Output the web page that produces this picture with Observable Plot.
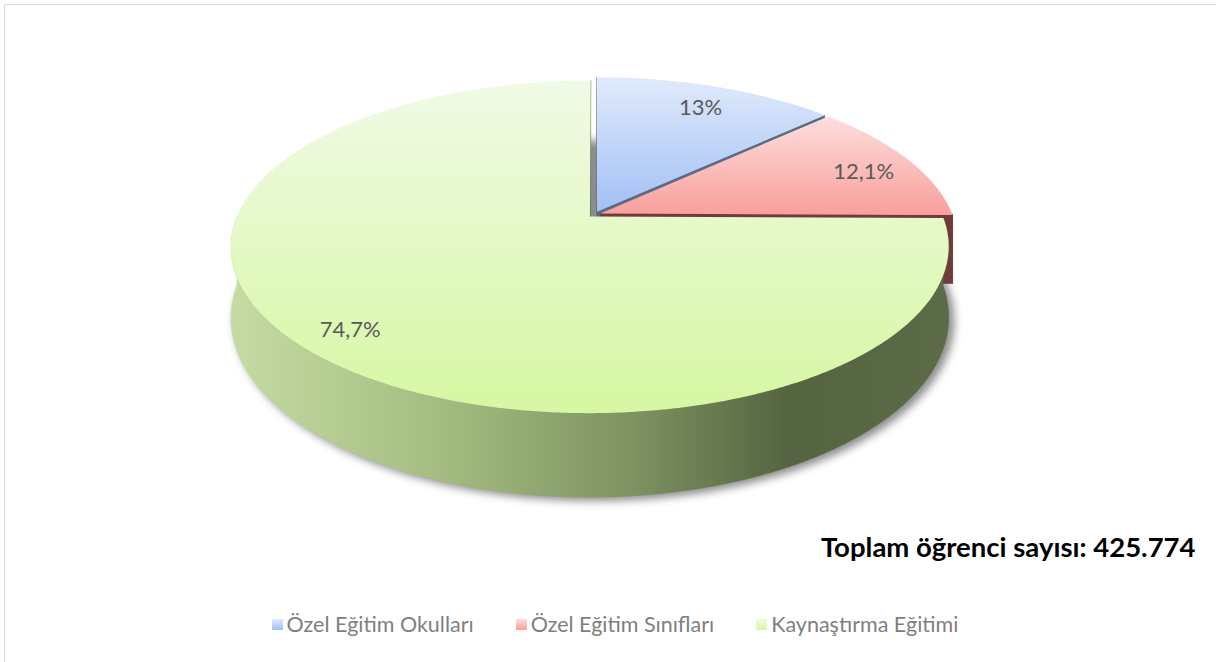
<!DOCTYPE html>
<html>
<head>
<meta charset="utf-8">
<script src="https://cdn.jsdelivr.net/npm/d3@7"></script>
<script src="https://cdn.jsdelivr.net/npm/@observablehq/plot@0.6"></script>
<style>
  html, body { margin: 0; padding: 0; background: #fff; }
  #chart { position: absolute; left: 0; top: 0; }
  #frame { position: absolute; left: 4px; top: 4px; width: 1300px; height: 700px;
           border-left: 1.5px solid #d9d9d9; border-top: 1.5px solid #d9d9d9; pointer-events: none; }
  #legend { position: absolute; left: 0; top: 611px; width: 1216px; display: flex; justify-content: center;
            gap: 42px; padding-left: 14px; box-sizing: border-box;
            font-family: Lato, "Open Sans", sans-serif; font-size: 21.5px; color: #7f7f7f; }
  #legend .item { display: flex; align-items: center; gap: 4px; }
  #legend .sw { width: 11px; height: 11px; display: inline-block; }
</style>
</head>
<body>
<div id="chart"></div>
<div id="legend"></div>
<div id="frame"></div>
<script>
// ---- data ----
const categories = ["Özel Eğitim Okulları", "Özel Eğitim Sınıfları", "Kaynaştırma Eğitimi"];
const shares = [13, 12.1, 74.7];
const shareLabels = ["13%", "12,1%", "74,7%"];
const totalText = "Toplam öğrenci sayısı: 425.774";

// ---- styles ----
const topColors = [["#e0eafb", "#a2c0f5"], ["#fddedd", "#f89f9b"], ["#f0fae6", "#d6f7a2"]];
const wallColors = ["#5b6a84", "#6f3b3b", "url(#gWallGreen)"];

// ---- 3D perspective view of the pie ----
const view = { cx: 594, cy: 214, R: 352, A: 160, k: 0.182, H: 68.5, explode: 0.018, labelR: 0.85 };
function project(X, Z, h) {
  const den = 1 + view.k * Z;
  return { x: view.cx + view.R * X / den, y: view.cy - view.A * Z / den + view.H * h / den };
}

const arcs = d3.pie().sort(null).value(d => d)(shares);
const slices = arcs.map((a, i) => {
  const mid = (a.startAngle + a.endAngle) / 2;
  return { i, a0: a.startAngle, a1: a.endAngle, mid,
           ox: view.explode * Math.sin(mid), oz: view.explode * Math.cos(mid) };
});
const rim = (s, t, h) => project(s.ox + Math.sin(t), s.oz + Math.cos(t), h);
const center = (s, h) => project(s.ox, s.oz, h);
function arcPts(s, t0, t1, h) {
  const n = Math.max(2, Math.ceil((t1 - t0) / (Math.PI / 360)));
  return d3.range(n + 1).map(j => rim(s, t0 + (t1 - t0) * j / n, h));
}

// walls
const cam = [0, -1 / view.k];
const walls = [];
for (const s of slices) {
  // radial faces
  for (const [t, sign] of [[s.a0, -1], [s.a1, 1]]) {
    const n = [sign * Math.cos(t), -sign * Math.sin(t)];
    const p = [s.ox + 0.5 * Math.sin(t), s.oz + 0.5 * Math.cos(t)];
    const vis = n[0] * (cam[0] - p[0]) + n[1] * (cam[1] - p[1]);
    if (vis > 1e-4) {
      walls.push({ depth: p[1], fill: wallColors[s.i],
        pts: [center(s, 0), rim(s, t, 0), rim(s, t, 1), center(s, 1)] });
    }
  }
  // outer curved wall (front half)
  const t0 = Math.max(s.a0, Math.PI / 2), t1 = Math.min(s.a1, 3 * Math.PI / 2);
  if (t0 < t1) {
    walls.push({ depth: -0.7, fill: wallColors[s.i],
      pts: [...arcPts(s, t0, t1, 0), ...arcPts(s, t0, t1, 1).reverse()] });
  }
}
walls.sort((a, b) => b.depth - a.depth);

const tops = slices.map(s => ({ fill: `url(#gTop${s.i})`, pts: [center(s, 0), ...arcPts(s, s.a0, s.a1, 0)] }));

const shadowPts = d3.range(0, 361, 2).map(d => {
  const t = d * Math.PI / 180;
  return project(Math.sin(t) * 1.005, Math.cos(t) * 1.005, 1.07);
});

const labelData = slices.map(s => {
  const p = project(s.ox + view.labelR * Math.sin(s.mid), s.oz + view.labelR * Math.cos(s.mid), 0);
  return { x: p.x, y: p.y, text: shareLabels[s.i] };
});

const poly = (o, extra = {}) => Plot.line(o.pts, { x: "x", y: "y", fill: o.fill, stroke: "none", ...extra });

const plot = Plot.plot({
  width: 1216, height: 606, margin: 0,
  x: { type: "identity", axis: null },
  y: { type: "identity", axis: null },
  marks: [
    Plot.line(shadowPts, { x: "x", y: "y", fill: "#000", fillOpacity: 0.45, stroke: "none" }),
    ...walls.map(w => poly(w, { stroke: w.fill, strokeWidth: 0.6 })),
    ...tops.map(t => poly(t)),
    Plot.text(labelData, { x: "x", y: "y", text: "text", dy: 5, fontSize: 22, fill: "#595959",
                           fontFamily: "Lato, 'Open Sans', sans-serif" }),
    Plot.text([totalText], { frameAnchor: "bottom-right", dx: -21, dy: -50, fontSize: 27.5, fontWeight: "bold",
                             fill: "#000", fontFamily: "Lato, 'Open Sans', sans-serif" })
  ]
});

// defs: gradients + blur
const defs = d3.select(plot).insert("defs", ":first-child");
topColors.forEach((c, i) => {
  const g = defs.append("linearGradient").attr("id", `gTop${i}`)
    .attr("x1", 0).attr("y1", 0).attr("x2", 0).attr("y2", 1);
  g.append("stop").attr("offset", 0).attr("stop-color", c[0]);
  g.append("stop").attr("offset", 1).attr("stop-color", c[1]);
});
const gw = defs.append("linearGradient").attr("id", "gWallGreen")
  .attr("x1", 0).attr("y1", 0).attr("x2", 1).attr("y2", 0);
[[0, "#c5dba3"], [0.3, "#a3bb80"], [0.55, "#7f9462"], [0.775, "#556541"], [1, "#5b6b48"]]
  .forEach(([o, c]) => gw.append("stop").attr("offset", o).attr("stop-color", c));
defs.append("filter").attr("id", "soft").attr("x", "-10%").attr("y", "-20%").attr("width", "120%").attr("height", "140%")
  .append("feGaussianBlur").attr("stdDeviation", 4);
const firstLine = plot.querySelector('g[aria-label="line"]');
if (firstLine) firstLine.setAttribute("filter", "url(#soft)");

document.getElementById("chart").appendChild(plot);

// legend
const legend = d3.select("#legend");
categories.forEach((c, i) => {
  const it = legend.append("div").attr("class", "item");
  it.append("span").attr("class", "sw")
    .style("background", `linear-gradient(${topColors[i][0]}, ${topColors[i][1]})`);
  it.append("span").text(c);
});
</script>
</body>
</html>
